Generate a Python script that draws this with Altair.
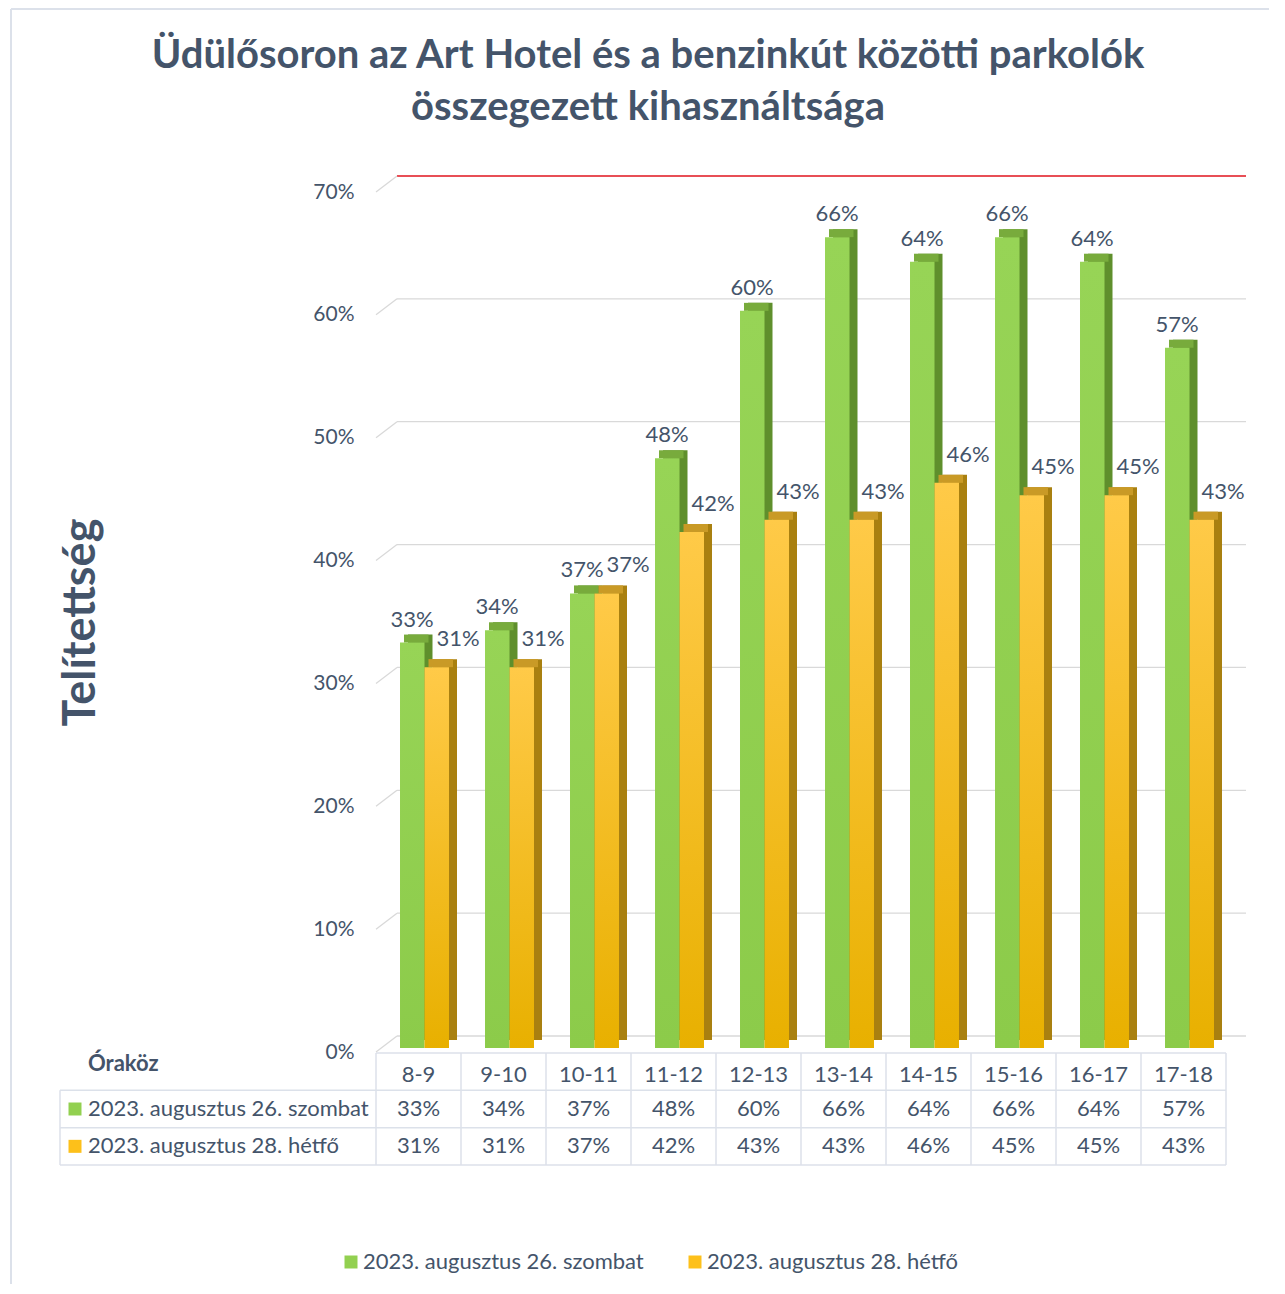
import altair as alt
import pandas as pd

# ---------------- data ----------------
categories = ["8-9", "9-10", "10-11", "11-12", "12-13", "13-14", "14-15", "15-16", "16-17", "17-18"]
saturday = [0.33, 0.34, 0.37, 0.48, 0.60, 0.66, 0.64, 0.66, 0.64, 0.57]
monday = [0.31, 0.31, 0.37, 0.42, 0.43, 0.43, 0.46, 0.45, 0.45, 0.43]
series_names = ["2023. augusztus 26. szombat", "2023. augusztus 28. hétfő"]
y_ticks = [0.0, 0.1, 0.2, 0.3, 0.4, 0.5, 0.6, 0.7]
title_lines = ["Üdülősoron az Art Hotel és a benzinkút közötti parkolók", "összegezett kihasználtsága"]
y_title = "Telítettség"
corner_label = "Óraköz"
table_rows = ["hdr", "r1", "r2"]

# ---------------- style ----------------
FONT = "Lato"
TXT = "#44546a"
GRID = "#d9d9d9"
TLINE = "#dce1ea"
FS = 22
W, H, TH = 850, 860, 112
DEPTH = 8
BASE = -4

green_front = alt.Gradient(gradient="linear", x1=0, x2=0, y1=0, y2=1,
                           stops=[alt.GradientStop(color="#97d456", offset=0),
                                  alt.GradientStop(color="#8ccb4a", offset=1)])
orange_front = alt.Gradient(gradient="linear", x1=0, x2=0, y1=0, y2=1,
                            stops=[alt.GradientStop(color="#ffca48", offset=0),
                                   alt.GradientStop(color="#e8b000", offset=1)])
# band fractions: where each series' column sits inside its category band
STY = {
    series_names[0]: dict(front=green_front, side="#5f8f2c", top="#78ab3c",
                          b0=0.2824, b1=0.5706, lab=0.424, dy=-27),
    series_names[1]: dict(front=orange_front, side="#a98010", top="#c99a26",
                          b0=0.5706, b1=0.8588, lab=0.965, dy=-32),
}

# ---------------- tables ----------------
bars = pd.DataFrame(
    [{"cat": c, "series": series_names[0], "value": v} for c, v in zip(categories, saturday)]
    + [{"cat": c, "series": series_names[1], "value": v} for c, v in zip(categories, monday)]
)
bars["label"] = (bars["value"] * 100).round().astype(int).astype(str) + "%"
grid = pd.DataFrame({"value": y_ticks, "top": [t == y_ticks[-1] for t in y_ticks]})
one = pd.DataFrame({"a": [0]})

xscale = alt.Scale(domain=categories, paddingInner=0, paddingOuter=0)
yscale = alt.Scale(domain=[0, 0.7], nice=False, zero=True, padding=0)
yaxis = alt.Axis(format=".0%", values=y_ticks, ticks=False, domain=False, grid=False,
                 labelPadding=22, labelFontSize=21, labelColor=TXT, labelFont=FONT,
                 title=y_title, titleFont=FONT, titleFontSize=45, titleFontWeight="bold",
                 titleColor=TXT, titleX=-296, titleY=430, titleBaseline="middle", titleAlign="center")


def yv():
    return alt.Y("value:Q", scale=yscale, axis=yaxis)


# frame
frame_top = alt.Chart(one).mark_rule(color=TLINE, strokeWidth=2).encode(
    x=alt.value(-365), x2=alt.value(893), y=alt.value(-183))
frame_left = alt.Chart(one).mark_rule(color=TLINE, strokeWidth=2).encode(
    x=alt.value(-365), y=alt.value(-183), y2=alt.value(1092))

# title
title = alt.Chart(one).mark_text(font=FONT, fontSize=40, fontWeight="bold", color=TXT,
                                 align="center", baseline="middle", lineHeight=52).encode(
    x=alt.value(272), y=alt.value(-136), text=alt.value(title_lines))

# 3D walls
grid_back = alt.Chart(grid).mark_rule(strokeWidth=1.3, yOffset=-16).encode(
    y=yv(), x=alt.value(21), x2=alt.value(W + 20),
    color=alt.condition("datum.top", alt.value("#e0141e"), alt.value(GRID)))
grid_slant = alt.Chart(grid).mark_rule(strokeWidth=1.3, color=GRID, y2Offset=-16).encode(
    y=yv(), y2="value:Q", x=alt.value(0), x2=alt.value(21))

layers = [frame_top, frame_left, title, grid_back, grid_slant]
for s in series_names:
    st = STY[s]
    base = alt.Chart(bars).transform_filter(alt.datum.series == s)
    bx = alt.X("cat:N", scale=xscale, axis=None, bandPosition=st["b0"])
    bx2 = alt.X2("cat:N", bandPosition=st["b1"])
    side = base.mark_bar(color=st["side"], xOffset=DEPTH, x2Offset=DEPTH,
                         yOffset=BASE - DEPTH, y2Offset=BASE - DEPTH).encode(
        x=bx, x2=bx2, y=yv(), y2=alt.datum(0))
    top = base.mark_bar(color=st["top"], xOffset=DEPTH / 2, x2Offset=DEPTH / 2,
                        yOffset=BASE - DEPTH, y2Offset=BASE).encode(
        x=bx, x2=bx2, y=yv(), y2="value:Q")
    front = base.mark_bar(color=st["front"], yOffset=BASE, y2Offset=BASE).encode(
        x=bx, x2=bx2, y=yv(), y2=alt.datum(0))
    lab = base.mark_text(font=FONT, fontSize=FS, color=TXT, baseline="middle", dy=st["dy"]).encode(
        x=alt.X("cat:N", scale=xscale, axis=None, bandPosition=st["lab"]), y=yv(), text="label:N")
    layers += [side, top, front, lab]

legend_layer = alt.Chart(bars).transform_filter("false").mark_square(size=169, opacity=1).encode(
    color=alt.Color("series:N",
                    scale=alt.Scale(domain=series_names, range=["#92d050", "#fdc01a"]),
                    legend=alt.Legend(title=None, orient="none", legendX=-36, legendY=1059,
                                      direction="horizontal", symbolType="square",
                                      symbolSize=169, symbolStrokeWidth=0, labelLimit=0,
                                      symbolOpacity=1,
                                      labelFont=FONT, labelFontSize=FS, labelColor=TXT,
                                      columnPadding=40, labelOffset=1)))
layers.append(legend_layer)

main = alt.layer(*layers).properties(width=W, height=H)

# ---------------- data table ----------------
tab = pd.DataFrame(
    [{"cat": c, "row": "r1", "text": l} for c, l in zip(categories, bars["label"][:10])]
    + [{"cat": c, "row": "r2", "text": l} for c, l in zip(categories, bars["label"][10:])]
)
hdr = pd.DataFrame({"cat": categories, "row": "hdr", "text": categories})
rscale = alt.Scale(domain=table_rows, paddingInner=0, paddingOuter=0)
tx = alt.X("cat:N", scale=xscale, axis=None)
ty = alt.Y("row:N", scale=rscale, axis=None)

cells = alt.Chart(tab).mark_text(font=FONT, fontSize=FS, color=TXT, baseline="middle").encode(
    x=tx, y=ty, text="text:N")
heads = alt.Chart(hdr).mark_text(font=FONT, fontSize=FS, color=TXT, baseline="middle", dy=3).encode(
    x=tx, y=ty, text="text:N")

cats_df = pd.DataFrame({"cat": categories})
vlines = alt.Chart(cats_df).mark_rule(color=TLINE, strokeWidth=1.5).encode(
    x=alt.X("cat:N", scale=xscale, axis=None, bandPosition=0), y=alt.value(0), y2=alt.value(TH))
vlast = alt.Chart(cats_df.tail(1)).mark_rule(color=TLINE, strokeWidth=1.5).encode(
    x=alt.X("cat:N", scale=xscale, axis=None, bandPosition=1), y=alt.value(0), y2=alt.value(TH))
htop = alt.Chart(one).mark_rule(color=TLINE, strokeWidth=1.5).encode(
    x=alt.value(0), x2=alt.value(W), y=alt.value(0))
rows_df = pd.DataFrame({"row": ["r1", "r2"], "series": series_names})
hrows = alt.Chart(rows_df).mark_rule(color=TLINE, strokeWidth=1.5).encode(
    y=alt.Y("row:N", scale=rscale, axis=None, bandPosition=0), x=alt.value(-316), x2=alt.value(W))
hbottom = alt.Chart(one).mark_rule(color=TLINE, strokeWidth=1.5).encode(
    x=alt.value(-316), x2=alt.value(W), y=alt.value(TH))
vleft = alt.Chart(rows_df.head(1)).mark_rule(color=TLINE, strokeWidth=1.5).encode(
    x=alt.value(-316), y=alt.Y("row:N", scale=rscale, axis=None, bandPosition=0), y2=alt.value(TH))

squares = alt.Chart(rows_df).mark_square(size=169, opacity=1).encode(
    x=alt.value(-301), y=ty,
    color=alt.Color("series:N", scale=alt.Scale(domain=series_names, range=["#92d050", "#fdc01a"]),
                    legend=None))
row_labels = alt.Chart(rows_df).mark_text(font=FONT, fontSize=FS, color=TXT, align="left",
                                          baseline="middle").encode(
    x=alt.value(-288), y=ty, text="series:N")
corner = alt.Chart(pd.DataFrame({"row": ["hdr"], "text": [corner_label]})).mark_text(
    font=FONT, fontSize=FS, fontWeight="bold", color=TXT, align="left", baseline="middle", dy=-8).encode(
    x=alt.value(-288), y=ty, text="text:N")

table = alt.layer(vlines, vlast, htop, hrows, hbottom, vleft, cells, heads, squares,
                  row_labels, corner).properties(width=W, height=TH)

chart = alt.vconcat(main, table, spacing=1, bounds="flush").properties(
    padding={"left": 2, "top": 0, "right": 0, "bottom": 0},
    background="white",
).configure_view(stroke=None)

chart.save("out.html", embed_options={"renderer": "svg", "actions": False})
